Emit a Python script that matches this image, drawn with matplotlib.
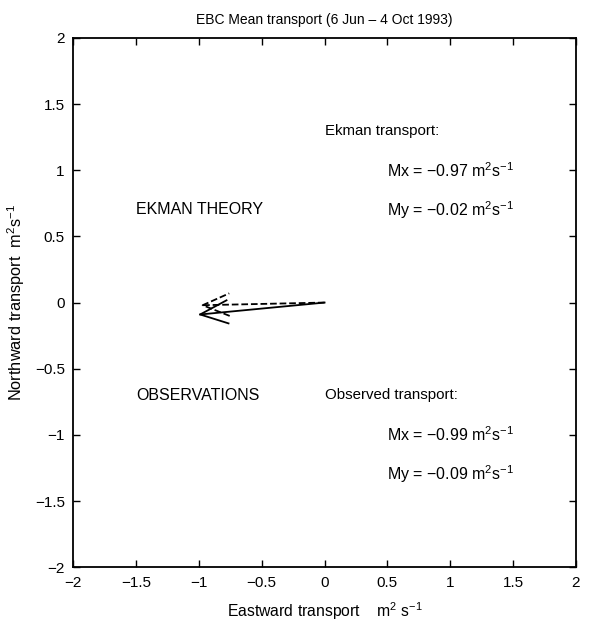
import numpy as np
import matplotlib
matplotlib.use('Agg')
import matplotlib.pyplot as plt

plt.rcParams['font.family'] = ['Liberation Sans', 'DejaVu Sans']
plt.rcParams['mathtext.fontset'] = 'custom'
plt.rcParams['mathtext.rm'] = 'Liberation Sans'
plt.rcParams['mathtext.it'] = 'Liberation Sans'
plt.rcParams['axes.unicode_minus'] = True

# --- Data ---
labels = ['Ekman transport:', 'Observed transport:']
mx = [-0.97, -0.99]
my = [-0.02, -0.09]
styles = ['--', '-']
ticks = [-2, -1.5, -1, -0.5, 0, 0.5, 1, 1.5, 2]
tick_labels = ['\u22122', '\u22121.5', '\u22121', '\u22120.5', '0', '0.5', '1', '1.5', '2']

ALPHA = 0.22  # head size relative to arrow length
BETA = 0.4    # head half-width relative to head length


def draw_arrow(ax, u, v, ls):
    """MATLAB-quiver-style open arrow from the origin."""
    ax.plot([0, u], [0, v], color='black', lw=1.3, linestyle=ls)
    hx = [u - ALPHA * (u + BETA * v), u, u - ALPHA * (u - BETA * v)]
    hy = [v - ALPHA * (v - BETA * u), v, v - ALPHA * (v + BETA * u)]
    ax.plot(hx, hy, color='black', lw=1.3, linestyle=ls)


fig = plt.figure(figsize=(5.95, 6.31), dpi=100)
ax = fig.add_axes([0.123, 0.101, 0.845, 0.839])

for u, v, ls in zip(mx, my, styles):
    draw_arrow(ax, u, v, ls)

ax.set_xlim(-2, 2)
ax.set_ylim(-2, 2)
ax.set_xticks(ticks)
ax.set_xticklabels(tick_labels)
ax.set_yticks(ticks)
ax.set_yticklabels(tick_labels)
ax.tick_params(direction='in', top=True, right=True, length=5, width=1,
               labelsize=11, pad=6)
for sp in ax.spines.values():
    sp.set_linewidth(1.3)

fs = 11.5
ax.text(-1.5, 0.7, 'EKMAN THEORY', fontsize=fs, va='center')
ax.text(-1.5, -0.7, 'OBSERVATIONS', fontsize=fs, va='center')

# annotation blocks
ys = [1.3, -0.7]
for lab, u, v, y0 in zip(labels, mx, my, ys):
    ax.text(0, y0, lab, fontsize=10.8, va='center')
    ax.text(0.5, y0 - 0.3, f'Mx = \u2212{abs(u):.2f} m$^2$s$^{{-1}}$', fontsize=fs, va='center')
    ax.text(0.5, y0 - 0.6, f'My = \u2212{abs(v):.2f} m$^2$s$^{{-1}}$', fontsize=fs, va='center')

ax.set_title('EBC Mean transport (6 Jun \u2013 4 Oct 1993)', fontsize=10, pad=10)
ax.set_xlabel('Eastward transport    m$^2$ s$^{-1}$', fontsize=11.3, labelpad=8)
ax.set_ylabel('Northward transport  m$^2$s$^{-1}$', fontsize=11.8, labelpad=6)

fig.savefig('out.png', dpi=100)
